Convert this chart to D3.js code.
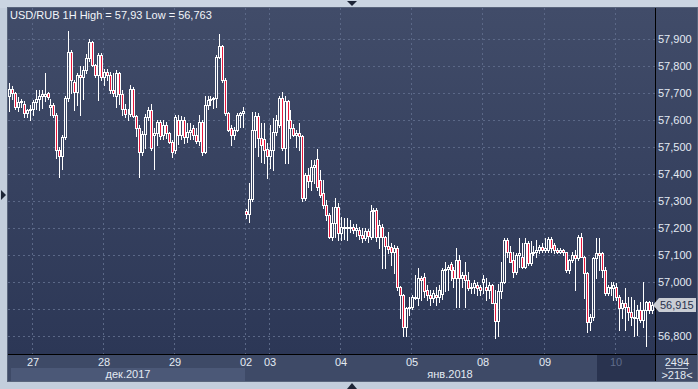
<!DOCTYPE html>
<meta charset="utf-8">
<style>
body { margin: 0; background: #c3cedc; }
svg { display: block; font-family: "Liberation Sans", Arial, sans-serif; }
</style>
<body>
<script src="https://cdn.jsdelivr.net/npm/d3@7"></script>
<div id="content"></div>
<script>
var width = 698,
    height = 389;

// hourly candles, [open, high, low, close], one array per trading day
var dec26 = [
  [57.690,57.737,57.632,57.715],[57.715,57.725,57.680,57.700],[57.700,57.705,57.640,57.648],[57.648,57.685,57.632,57.668],
  [57.668,57.680,57.650,57.672],[57.660,57.670,57.613,57.628],[57.628,57.642,57.612,57.636],[57.636,57.655,57.600,57.640]];
var dec27 = [
  [57.640,57.675,57.620,57.668],[57.668,57.710,57.640,57.680],[57.680,57.712,57.638,57.690],[57.690,57.710,57.645,57.698],
  [57.690,57.774,57.670,57.696],[57.700,57.705,57.678,57.684],[57.650,57.680,57.620,57.656],[57.656,57.662,57.610,57.619],
  [57.619,57.625,57.460,57.489],[57.489,57.500,57.390,57.465],[57.465,57.545,57.420,57.539],[57.539,57.690,57.530,57.681],
  [57.681,57.930,57.670,57.854],[57.854,57.860,57.700,57.750],[57.743,57.750,57.638,57.706],[57.706,57.775,57.655,57.768],
  [57.768,57.800,57.620,57.761],[57.761,57.800,57.680,57.786],[57.786,57.845,57.775,57.830],[57.830,57.900,57.820,57.891],
  [57.891,57.895,57.800,57.805],[57.805,57.810,57.760,57.768],[57.768,57.850,57.676,57.842],[57.842,57.850,57.750,57.761]];
var dec28 = [
  [57.761,57.790,57.730,57.780],[57.780,57.790,57.750,57.768],[57.768,57.780,57.700,57.712],[57.712,57.775,57.690,57.700],
  [57.690,57.786,57.650,57.776],[57.776,57.780,57.660,57.695],[57.695,57.710,57.620,57.640],[57.640,57.660,57.610,57.622],
  [57.622,57.640,57.600,57.622],[57.622,57.730,57.615,57.716],[57.716,57.722,57.610,57.615],[57.615,57.620,57.540,57.570],
  [57.570,57.580,57.390,57.483],[57.483,57.560,57.470,57.550],[57.550,57.622,57.495,57.610],[57.610,57.650,57.600,57.638],
  [57.638,57.660,57.490,57.495],[57.545,57.570,57.420,57.551],[57.551,57.600,57.508,57.594],[57.594,57.602,57.530,57.540],
  [57.545,57.600,57.530,57.582],[57.582,57.594,57.532,57.551],[57.551,57.555,57.515,57.520],[57.520,57.525,57.462,57.483]];
var dec29 = [
  [57.490,57.620,57.477,57.612],[57.601,57.620,57.510,57.545],[57.545,57.614,57.530,57.600],[57.600,57.610,57.516,57.539],
  [57.539,57.590,57.517,57.557],[57.557,57.590,57.529,57.565],[57.570,57.580,57.530,57.545],[57.545,57.570,57.514,57.521],
  [57.521,57.620,57.508,57.594],[57.594,57.600,57.470,57.480],[57.480,57.690,57.477,57.655],[57.655,57.690,57.640,57.676],
  [57.676,57.690,57.655,57.680],[57.680,57.687,57.645,57.681],[57.681,57.840,57.650,57.835],[57.835,57.919,57.830,57.875],
  [57.875,57.880,57.740,57.749],[57.749,57.755,57.620,57.625],[57.625,57.630,57.560,57.564],[57.570,57.580,57.508,57.545],
  [57.545,57.575,57.530,57.563],[57.563,57.625,57.560,57.619],[57.619,57.630,57.576,57.625],[57.625,57.647,57.576,57.634]];
var jan02 = [
  [57.262,57.270,57.235,57.250],[57.250,57.366,57.223,57.307],[57.307,57.631,57.300,57.563],[57.563,57.631,57.500,57.615],
  [57.615,57.625,57.465,57.533],[57.533,57.590,57.446,57.508],[57.529,57.588,57.440,57.489],[57.492,57.514,57.384,57.467]];
var jan03 = [
  [57.467,57.582,57.421,57.489],[57.489,57.607,57.415,57.557],[57.557,57.620,57.545,57.600],[57.582,57.690,57.575,57.681],
  [57.681,57.706,57.490,57.495],[57.495,57.690,57.440,57.670],[57.670,57.675,57.440,57.600],[57.600,57.638,57.533,57.570],
  [57.570,57.585,57.540,57.545],[57.545,57.563,57.500,57.551],[57.551,57.588,57.489,57.540],[57.540,57.545,57.300,57.310],
  [57.310,57.403,57.304,57.396],[57.396,57.421,57.353,57.375],[57.375,57.452,57.341,57.427],[57.427,57.452,57.366,57.433],
  [57.455,57.493,57.341,57.353],[57.378,57.415,57.316,57.322],[57.328,57.378,57.273,57.285],[57.285,57.304,57.230,57.248],
  [57.248,57.254,57.161,57.168],[57.168,57.279,57.155,57.217],[57.217,57.310,57.168,57.279],[57.279,57.291,57.155,57.180]];
var jan04 = [
  [57.180,57.242,57.155,57.205],[57.205,57.235,57.160,57.200],[57.200,57.236,57.155,57.205],[57.205,57.230,57.185,57.199],
  [57.205,57.215,57.180,57.193],[57.193,57.215,57.170,57.200],[57.192,57.205,57.160,57.174],[57.174,57.199,57.149,57.161],
  [57.161,57.199,57.155,57.190],[57.190,57.196,57.149,57.170],[57.168,57.285,57.160,57.264],[57.264,57.274,57.168,57.267],
  [57.267,57.272,57.150,57.168],[57.168,57.230,57.124,57.211],[57.205,57.215,57.050,57.168],[57.168,57.170,57.050,57.131],
  [57.131,57.186,57.106,57.120],[57.130,57.143,57.063,57.112],[57.112,57.137,57.032,57.124],[57.124,57.131,56.970,56.982],
  [56.982,56.985,56.865,56.951],[56.951,56.955,56.797,56.834],[56.834,56.908,56.797,56.902],[56.902,56.945,56.877,56.908]];
var jan05 = [
  [56.908,56.951,56.900,56.945],[56.945,57.025,56.935,56.940],[56.940,57.050,56.914,57.013],[57.013,57.020,56.933,57.007],
  [57.017,57.032,56.945,56.964],[56.970,56.988,56.933,56.951],[56.951,56.970,56.914,56.939],[56.939,56.970,56.926,56.957],
  [56.951,56.982,56.914,56.945],[56.945,56.988,56.926,56.970],[56.955,57.050,56.935,57.042],[57.042,57.075,56.964,57.046],
  [57.046,57.063,56.970,57.056],[57.066,57.075,57.007,57.044],[57.044,57.056,56.982,57.013],[57.013,57.124,56.908,57.081],
  [57.081,57.100,56.908,57.013],[57.013,57.038,56.982,57.025],[57.025,57.075,56.908,57.007],[57.007,57.038,56.970,56.976],
  [56.976,56.994,56.957,56.982],[56.982,57.007,56.957,56.994],[56.988,57.000,56.950,56.976],[56.982,56.988,56.951,56.970]];
var jan08 = [
  [57.000,57.025,56.957,57.010],[56.982,57.013,56.933,56.970],[56.970,57.000,56.939,56.988],[56.988,56.990,56.930,56.920],
  [56.920,56.970,56.790,56.855],[56.855,56.990,56.797,56.964],[56.964,57.075,56.939,57.001],[57.001,57.161,56.994,57.155],
  [57.155,57.161,57.093,57.112],[57.112,57.131,57.075,57.075],[57.081,57.112,57.019,57.038],[57.038,57.106,57.030,57.100],
  [57.100,57.161,57.056,57.106],[57.093,57.143,57.050,57.056],[57.056,57.161,57.050,57.143],[57.143,57.150,57.063,57.069],
  [57.069,57.150,57.063,57.106],[57.106,57.131,57.100,57.112],[57.112,57.155,57.093,57.118],[57.118,57.137,57.106,57.128],
  [57.130,57.143,57.112,57.118]];
var jan09 = [
  [57.118,57.161,57.112,57.124],[57.118,57.165,57.110,57.160],[57.160,57.168,57.112,57.124],[57.137,57.143,57.106,57.118],
  [57.118,57.125,57.106,57.112],[57.112,57.125,57.106,57.118],[57.118,57.120,57.100,57.110],[57.110,57.112,57.038,57.044],
  [57.044,57.085,57.032,57.081],[57.081,57.112,57.075,57.100],[57.100,57.118,56.970,57.087],[57.087,57.174,57.080,57.168],
  [57.168,57.180,57.093,57.093],[57.093,57.095,56.939,57.032],[57.032,57.035,56.815,56.852],[56.852,56.880,56.821,56.871],
  [56.871,57.093,56.858,57.087],[57.087,57.161,57.013,57.106],[57.106,57.161,57.044,57.100],[57.106,57.110,57.019,57.044],
  [57.044,57.056,56.951,56.957],[56.957,56.988,56.951,56.982],[56.982,57.001,56.951,56.976],[56.976,57.001,56.933,56.988]];
var jan10 = [
  [56.982,56.994,56.933,56.945],[56.945,56.951,56.821,56.902],[56.902,56.933,56.865,56.920],[56.920,56.976,56.821,56.908],
  [56.908,56.945,56.858,56.889],[56.889,56.945,56.840,56.871],[56.871,56.933,56.797,56.865],[56.865,56.914,56.803,56.896],
  [56.896,56.926,56.852,56.858],[56.858,57.001,56.834,56.896],[56.896,56.930,56.763,56.926],[56.926,56.930,56.885,56.896],
  [56.896,56.925,56.885,56.915]];

var days = [dec26, dec27, dec28, dec29, jan02, jan03, jan04, jan05, jan08, jan09, jan10];
var dayLabels = [null, "27", "28", "29", "02", "03", "04", "05", "08", "09", "10"];
var monthLabels = ["дек.2017", "янв.2018"];
var yTicks = [56.8, 56.9, 57.0, 57.1, 57.2, 57.3, 57.4, 57.5, 57.6, 57.7, 57.8, 57.9];
var title = "USD/RUB 1H High = 57,93 Low = 56,763";
var lastPrice = 56.915;
var totalBars = 2494;

var candles = [].concat.apply([], days);
var dayStart = [];
days.reduce(function(a, d){ dayStart.push(a); return a + d.length; }, 0);

var plotL = 8, plotR = 655, plotT = 8, plotB = 354, axisB = 381, frameR = 697;

var svg = d3.select("#content").append("svg")
    .attr("width", width)
    .attr("height", height);

var defs = svg.append("defs");
var grad = defs.append("linearGradient").attr("id", "bg")
    .attr("x1", 0).attr("y1", 0).attr("x2", 0).attr("y2", 1);
grad.append("stop").attr("offset", "0%").attr("stop-color", "#414c69");
grad.append("stop").attr("offset", "100%").attr("stop-color", "#2c3756");

// outer frame
svg.append("rect").attr("width", width).attr("height", height).attr("fill", "#c3cedc");
svg.append("rect").attr("width", width).attr("height", plotT).attr("fill", "#cbd5e2");
svg.append("rect")
    .attr("x", plotL).attr("y", plotT)
    .attr("width", frameR - plotL).attr("height", plotB - plotT)
    .attr("fill", "url(#bg)");
svg.append("rect")
    .attr("x", plotL).attr("y", plotB)
    .attr("width", frameR - plotL).attr("height", axisB - plotB)
    .attr("fill", "#3e4a67");

var x = d3.scaleBand()
    .domain(d3.range(candles.length))
    .range([plotL, plotR - 1]);

var y = d3.scaleLinear()
    .domain([56.732, 58.016])
    .range([plotB, plotT]);

var grid = svg.append("g")
    .attr("stroke", "#5b6887")
    .attr("stroke-dasharray", "2,3");
grid.selectAll(".hg")
    .data(yTicks)
    .enter().append("line")
    .attr("x1", plotL).attr("x2", plotR)
    .attr("y1", function(d){ return Math.round(y(d)) + 0.5; })
    .attr("y2", function(d){ return Math.round(y(d)) + 0.5; });
grid.selectAll(".vg")
    .data(dayStart.slice(1))
    .enter().append("line")
    .attr("x1", function(d){ return Math.round(x(d)) + 0.5; })
    .attr("x2", function(d){ return Math.round(x(d)) + 0.5; })
    .attr("y1", plotT).attr("y2", plotB);

// candles
var g = svg.append("g");
candles.forEach(function(c, i){
  var px = Math.floor(x(i) + x.bandwidth() / 2);
  var o = c[0], h = c[1], l = c[2], cl = c[3];
  var yt = Math.round(y(Math.max(o, cl))) + 0.5,
      yb = Math.round(y(Math.min(o, cl))) + 0.5,
      yh = Math.round(y(h)),
      yl = Math.round(y(l)) + 1;
  g.append("line")
    .attr("x1", px + 0.5).attr("x2", px + 0.5)
    .attr("y1", yh).attr("y2", yt)
    .attr("stroke", "#fff");
  g.append("line")
    .attr("x1", px + 0.5).attr("x2", px + 0.5)
    .attr("y1", yb).attr("y2", yl)
    .attr("stroke", "#fff");
  g.append("rect")
    .attr("x", px - 0.5).attr("y", yt)
    .attr("width", 2).attr("height", yb - yt)
    .attr("fill", cl < o ? "#e8173c" : "none")
    .attr("stroke", "#fff");
});

// separators
svg.append("line").attr("x1", plotR + 0.5).attr("x2", plotR + 0.5)
    .attr("y1", plotT).attr("y2", axisB).attr("stroke", "#000");
svg.append("line").attr("x1", plotL).attr("x2", frameR)
    .attr("y1", plotB + 0.5).attr("y2", plotB + 0.5).attr("stroke", "#000");
svg.append("rect").attr("x", plotL - 0.5).attr("y", plotT - 0.5)
    .attr("width", frameR - plotL + 1).attr("height", axisB - plotT + 1)
    .attr("fill", "none").attr("stroke", "#59657c");

// price axis; the label under the last-price marker stays hidden, as in the terminal
var yp = Math.round(y(lastPrice));
svg.append("g").selectAll("text")
    .data(yTicks.filter(function(d){ return Math.abs(y(d) - yp) > 10; }))
    .enter().append("text")
    .attr("x", 658)
    .attr("y", function(d){ return Math.round(y(d)) + 4; })
    .attr("font-size", 11)
    .attr("fill", "#e4eaf3")
    .text(function(d){ return d3.format(".3f")(d).replace(".", ","); });

// last price marker
svg.append("path")
    .attr("d", "M653," + yp + "L659," + (yp - 7) + "L696," + (yp - 7) + "L696," + (yp + 7) + "L659," + (yp + 7) + "Z")
    .attr("fill", "#c9cdd4");
svg.append("text")
    .attr("x", 660).attr("y", yp + 4)
    .attr("font-size", 11)
    .attr("fill", "#27314c")
    .text(d3.format(".3f")(lastPrice).replace(".", ","));

// time axis
var decEnd = dayStart[4];
svg.append("rect")
    .attr("x", plotL + 3).attr("y", 368)
    .attr("width", Math.round(x(decEnd)) - plotL - 3).attr("height", axisB - 368)
    .attr("fill", "#4b5877");
svg.append("rect")
    .attr("x", 597).attr("y", plotB + 1)
    .attr("width", plotR - 597).attr("height", axisB - plotB - 1)
    .attr("fill", "#29334f");

svg.append("g").selectAll("text")
    .data(dayStart)
    .enter().filter(function(d, i){ return dayLabels[i]; })
    .append("text")
    .attr("x", function(d){ return Math.round(x(d)) + 1; })
    .attr("y", 366)
    .attr("text-anchor", "middle")
    .attr("font-size", 11)
    .attr("fill", function(d){ return dayLabels[dayStart.indexOf(d)] === "10" ? "#5f6c8a" : "#e4eaf3"; })
    .text(function(d){ return dayLabels[dayStart.indexOf(d)]; });

svg.append("text")
    .attr("x", (plotL + 3 + x(decEnd)) / 2).attr("y", 378)
    .attr("text-anchor", "middle").attr("font-size", 11).attr("fill", "#e4eaf3")
    .text(monthLabels[0]);
svg.append("text")
    .attr("x", (x(decEnd) + plotR) / 2).attr("y", 378)
    .attr("text-anchor", "middle").attr("font-size", 11).attr("fill", "#e4eaf3")
    .text(monthLabels[1]);

// bar counter
svg.append("text")
    .attr("x", 677).attr("y", 366)
    .attr("text-anchor", "middle").attr("font-size", 11).attr("fill", "#e4eaf3")
    .text(totalBars);
svg.append("line").attr("x1", 666).attr("x2", 688)
    .attr("y1", 368.5).attr("y2", 368.5).attr("stroke", "#b8c2d2");
svg.append("text")
    .attr("x", 677).attr("y", 379)
    .attr("text-anchor", "middle").attr("font-size", 11).attr("fill", "#e4eaf3")
    .text(">" + candles.length + "<");

// title
svg.append("text")
    .attr("x", 10).attr("y", 19)
    .attr("font-size", 11)
    .attr("fill", "#f2f5fa")
    .text(title);

// small scroll arrows on the frame
svg.append("path").attr("d", "M347,1L357,1L352,6Z").attr("fill", "#1d2536");
svg.append("path").attr("d", "M347,389L357,389L352,383Z").attr("fill", "#1d2536");
svg.append("path").attr("d", "M1,190L1,200L6,195Z").attr("fill", "#1d2536");
</script>
